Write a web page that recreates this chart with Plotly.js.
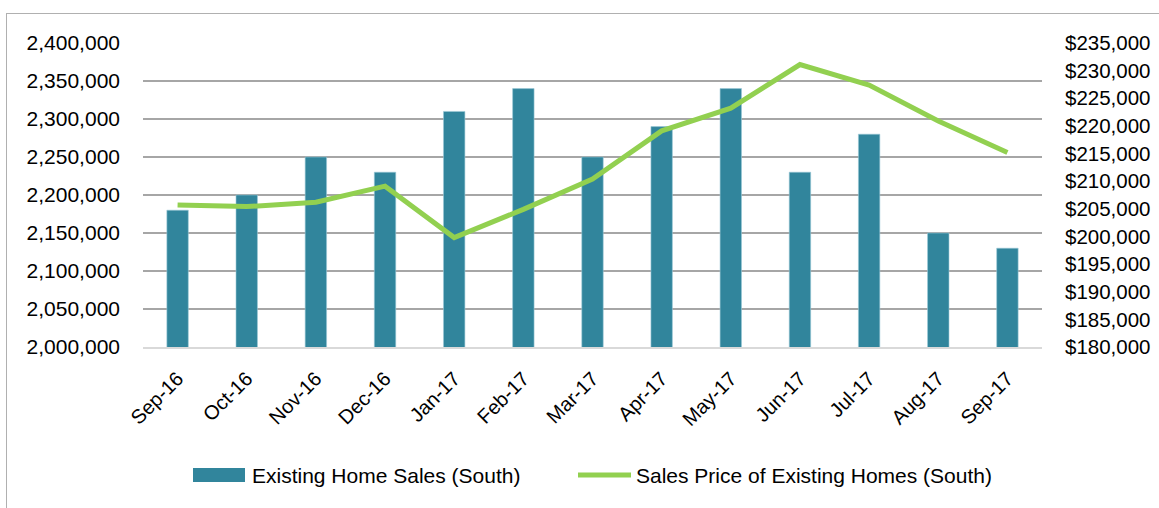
<!DOCTYPE html>
<html>
<head>
<meta charset="utf-8">
<script src="https://cdn.plot.ly/plotly-3.0.1.min.js"></script>
<style>
html,body{margin:0;padding:0;overflow:hidden;background:#fff;}
#chart{width:1159px;height:508px;}
#frame{position:absolute;left:6px;top:13px;width:1300px;height:700px;border:1.5px solid #b0b0b0;pointer-events:none;}
</style>
</head>
<body>
<div id="chart"></div>
<div id="frame"></div>
<script>
var months = ["Sep-16","Oct-16","Nov-16","Dec-16","Jan-17","Feb-17","Mar-17","Apr-17","May-17","Jun-17","Jul-17","Aug-17","Sep-17"];
var homeSales = [2180000,2200000,2250000,2230000,2310000,2340000,2250000,2290000,2340000,2230000,2280000,2150000,2130000];
var salesPrice = [205700,205400,206200,209100,199800,204900,210400,219100,223200,231100,227400,220900,215200];
var salesName = "Existing Home Sales (South)";
var priceName = "Sales Price of Existing Homes (South)";

var FONT = "Liberation Sans, Arial, sans-serif";
var BAR_COLOR = "#31859C";
var LINE_COLOR = "#92D050";

var traces = [
  {
    type: "bar", x: months, y: homeSales, name: salesName,
    marker: {color: BAR_COLOR, line: {color: "#9cc9d6", width: 0.6}},
    width: 0.31, yaxis: "y"
  },
  {
    type: "scatter", mode: "lines", x: months, y: salesPrice, name: priceName,
    line: {color: LINE_COLOR, width: 5}, yaxis: "y2"
  }
];

// plot area in pixels: x 143..1042, y 43..347
var W = 1159, H = 508, L = 143, R = 117, T = 43, B = 161;
var pw = W - L - R, ph = H - T - B;
function px(x) { return (x - L) / pw; }
function py(y) { return (H - B - y) / ph; }

var legendY = 475;
var shapes = [
  {type: "rect", xref: "paper", yref: "paper", x0: px(193), x1: px(245), y0: py(482), y1: py(468),
   fillcolor: BAR_COLOR, line: {width: 0}},
  {type: "line", xref: "paper", yref: "paper", x0: px(578), x1: px(631), y0: py(legendY), y1: py(legendY),
   line: {color: LINE_COLOR, width: 5}}
];
var annotations = [
  {xref: "paper", yref: "paper", x: px(250), y: py(legendY), xanchor: "left", yanchor: "middle",
   text: salesName, showarrow: false, font: {family: FONT, size: 21, color: "#000"}},
  {xref: "paper", yref: "paper", x: px(634), y: py(legendY), xanchor: "left", yanchor: "middle",
   text: priceName, showarrow: false, font: {family: FONT, size: 21, color: "#000"}}
];

var layout = {
  width: W, height: H,
  margin: {l: L, r: R, t: T, b: B, pad: 0},
  paper_bgcolor: "#fff", plot_bgcolor: "#fff",
  font: {family: FONT, size: 21, color: "#000"},
  showlegend: false,
  xaxis: {
    type: "category", tickangle: -45, ticks: "", showgrid: false,
    showline: true, linecolor: "#d9d9d9", linewidth: 2,
    tickfont: {family: FONT, size: 20, color: "#000"},
    ticklabelstandoff: 10
  },
  yaxis: {
    range: [2000000, 2400000], dtick: 50000, tickformat: ",d",
    showgrid: true, gridcolor: "#a6a6a6", gridwidth: 1.5,
    zeroline: false, ticks: "", showline: false,
    tickfont: {family: FONT, size: 21, color: "#000"},
    ticklabelstandoff: 22
  },
  yaxis2: {
    overlaying: "y", side: "right",
    range: [180000, 235000], dtick: 5000, tickformat: ",d", tickprefix: "$",
    showgrid: false, zeroline: false, ticks: "", showline: false,
    tickfont: {family: FONT, size: 20.5, color: "#000"},
    ticklabelstandoff: 22
  },
  shapes: shapes,
  annotations: annotations
};

Plotly.newPlot("chart", traces, layout, {staticPlot: true});
</script>
</body>
</html>
